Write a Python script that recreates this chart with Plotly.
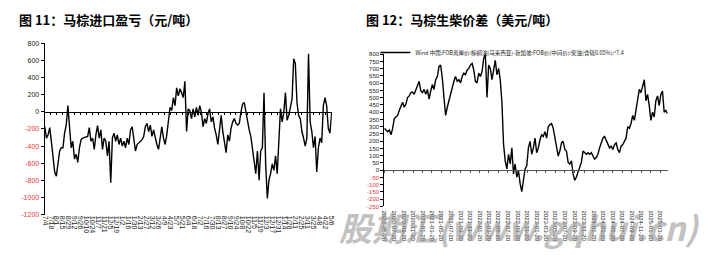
import plotly.graph_objects as go
import pandas as pd

# ---------------- data ----------------
# Figure 11: Malaysian palm oil import margin (CNY/t), 2023-07-04 .. 2025-05-06
left_start, left_end = "2023-07-04", "2025-05-06"
left_values = [
    -175, -306, -268, -185, -351, -570, -702, -751, -570, -457,
    -419, -419, -249, -155, 72, -211, -419, -343, -551, -494,
    -589, -419, -325, -306, -298, -294, -287, -185, -343, -306,
    -438, -268, -162, -306, -211, -438, -306, -343, -513, -343,
    -826, -306, -249, -343, -268, -381, -306, -400, -343, -419,
    -306, -381, -211, -174, -343, -457, -381, -362, -343, -325,
    -287, -174, -136, -230, -155, -287, -211, -306, -381, -438,
    -268, -174, -306, -381, -268, -79, 53, 15, 166, 72,
    279, 185, 268, 223, 166, 355, -230, 34, 15, -79,
    34, -60, 53, -42, 72, -4, -174, -79, -136, -23,
    34, -117, -60, -192, -268, -381, -192, -42, -230, -343,
    -476, -268, -343, -192, -117, -79, -136, -155, -136, -4,
    91, 109, -4, -117, -211, -287, -419, -532, -721, -457,
    -796, -457, -419, 223, -608, -1011, -796, -721, -608, -683,
    -513, -721, -306, 34, -117, -4, 223, -98, -42, 53,
    147, 619, 562, 109, -42, -79, -230, -306, -400, -306,
    676, -117, -230, -419, -287, -702, -419, -306, -362, 72,
    166, 72, -192, -249, -23,
]
left_yticks = [800, 600, 400, 200, 0, -200, -400, -600, -800, -1000, -1200]

# Figure 12: palm oil (FOB Malaysia) minus gasoil (Singapore FOB)*7.4 (USD/t)
right_start, right_end = "2020-05-20", "2025-05-06"
right_values = [
    289, 277, 266, 277, 244, 289, 356, 367, 378, 412,
    445, 468, 434, 456, 501, 512, 535, 539, 523, 557,
    579, 613, 546, 535, 557, 523, 557, 490, 546, 591,
    557, 624, 646, 714, 725, 635, 501, 378, 434, 479,
    535, 579, 613, 646, 613, 624, 602, 646, 669, 658,
    691, 702, 725, 736, 691, 613, 602, 669, 646, 680,
    770, 799, 501, 725, 702, 624, 680, 758, 658, 702,
    624, 468, 177, 65, 9, 110, 43, 154, -25, 43,
    -47, -2, -92, -148, -69, 9, 31, 154, 199, 110,
    154, 221, 121, 154, 210, 244, 233, 266, 221, 300,
    315, 322, 289, 221, 166, 98, 132, 188, 199, 143,
    132, 54, 43, 65, -25, -69, -47, -13, 9, 54,
    132, 121, 110, 121, 110, 121, 98, 76, 87, 110,
    154, 188, 221, 233, 210, 177, 154, 166, 143, 177,
    188, 143, 121, 166, 177, 199, 221, 300, 289, 322,
    378, 344, 423, 468, 557, 535, 591, 624, 479, 523,
    445, 344, 400, 367, 479, 512, 445, 523, 546, 400,
    412, 389,
]
right_yticks = list(range(800, -251, -50))

left_title = "图 11：马棕进口盈亏（元/吨）"
right_title = "图 12：马棕生柴价差（美元/吨）"
right_series_name = "Wind 中国:FOB离岸价:棕榈油(马来西亚)-新加坡:FOB价(中间价):柴油(含硫0.05%):*7.4"
watermark = "股期汇(www.gqhui.cn)"

# ---------------- build ----------------
W, H = 727, 255
left_dates = pd.date_range(left_start, left_end, periods=len(left_values))
right_dates = pd.date_range(right_start, right_end, periods=len(right_values))

RED = "#e8343a"
def tick_text(v):
    if v < 0:
        return f'<span style="color:{RED}">{v}</span>'
    return str(v)

L_X = [42 / W, 332 / W]
L_Y = [1 - 216.7 / H, 1 - 40.3 / H]
R_X = [385 / W, 671 / W]
R_Y = [1 - 208.2 / H, 1 - 51.6 / H]
L_RANGE = [-1200, 800]
R_RANGE = [-250, 800]

def zero_pos(dom, rng):
    return dom[0] + (0 - rng[0]) / (rng[1] - rng[0]) * (dom[1] - dom[0])

FONT = "Liberation Sans, Arial, sans-serif"
CJK = "Noto Sans CJK SC, sans-serif"
DAY = 86400000

fig = go.Figure()
fig.add_trace(go.Scatter(x=left_dates, y=left_values, mode="lines",
                         line=dict(color="#000000", width=1.4),
                         xaxis="x", yaxis="y", showlegend=False))
fig.add_trace(go.Scatter(x=left_dates, y=left_values, mode="lines", opacity=0,
                         xaxis="x3", yaxis="y", showlegend=False, hoverinfo="skip"))
fig.add_trace(go.Scatter(x=right_dates, y=right_values, mode="lines",
                         name=right_series_name,
                         line=dict(color="#000000", width=1.4),
                         xaxis="x2", yaxis="y2", showlegend=True))
fig.add_trace(go.Scatter(x=right_dates, y=right_values, mode="lines", opacity=0,
                         xaxis="x4", yaxis="y2", showlegend=False, hoverinfo="skip"))

common_x = dict(type="date", showgrid=False, zeroline=False, fixedrange=True)
l_range = [pd.Timestamp(left_start) - pd.Timedelta(hours=12),
           pd.Timestamp(left_end) + pd.Timedelta(hours=12)]
r_range = [pd.Timestamp(right_start) - pd.Timedelta(hours=12),
           pd.Timestamp(right_end) + pd.Timedelta(hours=12)]

fig.update_layout(
    width=W, height=H,
    margin=dict(l=0, r=0, t=0, b=0),
    paper_bgcolor="white", plot_bgcolor="rgba(0,0,0,0)",
    font=dict(family=FONT, color="#222222"),
    xaxis=dict(**common_x, domain=L_X, anchor="y", range=l_range,
               tick0=left_start, dtick=14 * DAY, tickformat="%-m/%-d",
               tickangle=90, showline=False, ticks="",
               tickfont=dict(size=7, color="#222222")),
    xaxis3=dict(**common_x, domain=L_X, overlaying="x", anchor="free",
                position=zero_pos(L_Y, L_RANGE), range=l_range,
                tick0=left_start, dtick=14 * DAY, showticklabels=False,
                showline=True, linecolor="#000000", linewidth=1,
                ticks="outside", ticklen=2, tickcolor="#000000", tickwidth=1),
    yaxis=dict(domain=L_Y, anchor="x", range=L_RANGE,
               tickvals=left_yticks, ticktext=[tick_text(v) for v in left_yticks],
               showline=True, linecolor="#000000", linewidth=1,
               ticks="outside", ticklen=3, tickcolor="#000000",
               showgrid=False, zeroline=False, fixedrange=True,
               tickfont=dict(size=7, color="#222222")),
    xaxis2=dict(**common_x, domain=R_X, anchor="y2", range=r_range,
                tick0=right_start, dtick="M2", tickformat="%Y-%m-%d",
                tickangle=90, showline=False, ticks="", ticklabelstandoff=3,
                tickfont=dict(size=6, color="#222222")),
    xaxis4=dict(**common_x, domain=R_X, overlaying="x2", anchor="free",
                position=zero_pos(R_Y, R_RANGE), range=r_range,
                tick0=right_start, dtick="M2", showticklabels=False,
                showline=True, linecolor="#555555", linewidth=1,
                ticks="outside", ticklen=2, tickcolor="#555555", tickwidth=1),
    yaxis2=dict(domain=R_Y, anchor="x2", range=R_RANGE,
                tickvals=right_yticks, ticktext=[tick_text(v) for v in right_yticks],
                showline=True, linecolor="#000000", linewidth=1,
                ticks="outside", ticklen=3, tickcolor="#000000",
                showgrid=False, zeroline=False, fixedrange=True,
                tickfont=dict(size=6, color="#222222")),
    legend=dict(x=376 / W, y=1 - 35 / H, xanchor="left", yanchor="top",
                font=dict(size=5.5, family=CJK, color="#222222"),
                bgcolor="rgba(0,0,0,0)", itemwidth=30, borderwidth=0),
    annotations=[
        dict(text=f"<b>{left_title}</b>", x=14 / W, y=1 - 16 / H,
             xref="paper", yref="paper", xanchor="left", yanchor="middle",
             showarrow=False, font=dict(size=13, family=CJK, color="#000000")),
        dict(text=f"<b>{right_title}</b>", x=365 / W, y=1 - 16 / H,
             xref="paper", yref="paper", xanchor="left", yanchor="middle",
             showarrow=False, font=dict(size=13, family=CJK, color="#000000")),
        dict(text=f"<b><i>{watermark}</i></b>", x=521 / W, y=1 - 229 / H,
             xref="paper", yref="paper", xanchor="center", yanchor="middle",
             showarrow=False, opacity=0.55,
             font=dict(size=33, family=CJK, color="#8f8f8f")),
    ],
)

fig.write_html("out.html")
